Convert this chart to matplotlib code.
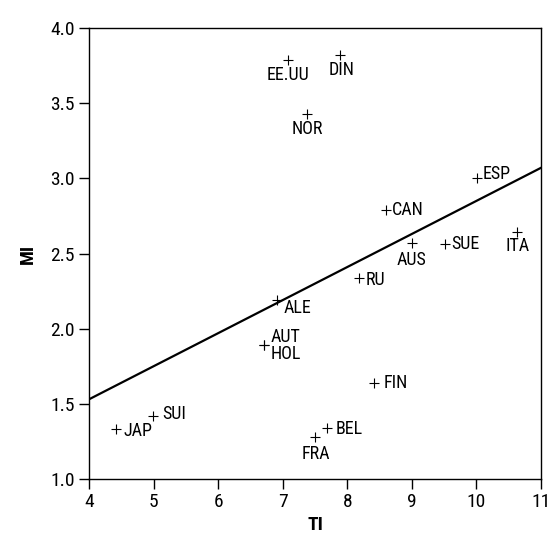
import numpy as np
import matplotlib
matplotlib.use("Agg")
import matplotlib.pyplot as plt

plt.rcParams['font.family'] = ['Roboto Condensed', 'DejaVu Sans']

# data
paises = ["EE.UU", "DIN", "NOR", "ESP", "CAN", "AUS", "SUE", "ITA", "RU",
          "ALE", "AUT", "HOL", "FIN", "JAP", "SUI", "BEL", "FRA"]
ti = [7.08, 7.89, 7.38, 10.01, 8.60, 9.00, 9.51, 10.63, 8.18,
      6.91, 6.71, 6.71, 8.41, 4.42, 4.99, 7.69, 7.50]
mi = [3.79, 3.82, 3.43, 3.00, 2.79, 2.57, 2.56, 2.64, 2.34,
      2.19, 1.89, 1.89, 1.64, 1.33, 1.42, 1.34, 1.28]
# fitted line MI = a + b*TI
recta_a = 0.65
recta_b = 0.22

# label placement (offset in points, alignment)
pos = {
    "EE.UU": ((0, -11), "center"), "DIN": ((1, -11), "center"),
    "NOR": ((0, -11), "center"), "ESP": ((4, 3), "left"),
    "CAN": ((4, 0), "left"), "AUS": ((0, -12), "center"),
    "SUE": ((5, 0), "left"), "ITA": ((0, -10), "center"),
    "RU": ((5, -2), "left"), "ALE": ((5, -6), "left"),
    "AUT": ((5, 6), "left"), "HOL": ((5, -6), "left"),
    "FIN": ((7, 0), "left"), "JAP": ((5, -1), "left"),
    "SUI": ((7, 1), "left"), "BEL": ((6, -1), "left"),
    "FRA": ((1, -12), "center"),
}

fig = plt.figure(figsize=(5.5, 5.45), dpi=100)
ax = fig.add_axes([0.1618, 0.1211, 0.8218, 0.8275])

ax.plot(ti, mi, linestyle="none", marker="+", color="black", ms=7, mew=0.8)

xs = np.array([4, 11])
ax.plot(xs, recta_a + recta_b * xs, color="black", lw=1.6)

for p, x, y in zip(paises, ti, mi):
    off, ha = pos[p]
    ax.annotate(p, (x, y), xytext=off, textcoords="offset points",
                ha=ha, va="center", fontsize=13)

ax.set_xlim(4, 11)
ax.set_ylim(1, 4)
ax.set_xticks(range(4, 12))
ax.set_yticks([1.0, 1.5, 2.0, 2.5, 3.0, 3.5, 4.0])
ax.set_yticklabels(["1.0", "1.5", "2.0", "2.5", "3.0", "3.5", "4.0"])
ax.tick_params(direction="out", length=7, width=1, labelsize=14, pad=3)
for s in ax.spines.values():
    s.set_linewidth(1)
ax.set_xlabel("TI", fontsize=14, fontweight="bold", labelpad=4)
ax.set_ylabel("MI", fontsize=14, fontweight="bold", labelpad=10)

fig.savefig("out.png", dpi=100)
